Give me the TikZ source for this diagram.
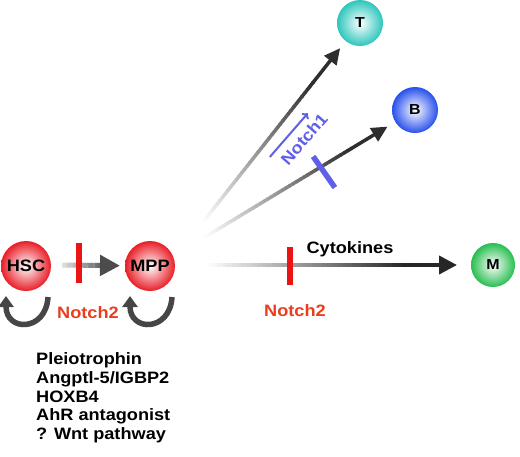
\documentclass[tikz,border=0pt]{standalone}
\usepackage{fontspec}
\setmainfont{Liberation Sans}[FakeStretch=1.1]
\usetikzlibrary{calc,arrows.meta}
\definecolor{hscred}{RGB}{232,30,40}
\definecolor{tcol}{RGB}{45,198,188}
\definecolor{bcol}{RGB}{40,80,235}
\definecolor{mcol}{RGB}{40,190,80}
\definecolor{barred}{RGB}{235,20,20}
\definecolor{notchred}{RGB}{232,62,30}
\definecolor{notchblue}{RGB}{95,95,232}
\definecolor{loopgray}{RGB}{70,70,70}
\newcommand\fadearrow[7]{%
  \foreach \i in {0,...,39}{%
    \pgfmathsetmacro\fa{0.8*\i/40}%
    \pgfmathsetmacro\fb{0.8*(\i+1)/40+0.004}%
    \pgfmathsetmacro\cc{#6+(#7-#6)*\i/39}%
    \draw[line width=#3, draw=black!\cc] ($(#1)!\fa!(#2)$) -- ($(#1)!\fb!(#2)$);
  }%
  \draw[line width=#3, draw=black!#7, -{Triangle[length=#4,width=#5]}] ($(#1)!0.8!(#2)$) -- (#2);
}
\begin{document}
\begin{tikzpicture}[x=1pt,y=-1pt,
  bigcell/.style={circle, inner sep=0pt, minimum size=50pt, shading=radial, inner color=white,
    font=\bfseries\fontsize{16.5}{20}\selectfont},
  smallcell/.style={circle, inner sep=0pt, minimum size=46pt, shading=radial, inner color=white,
    font=\bfseries\fontsize{14.5}{18}\selectfont},
  lbl/.style={inner sep=0pt, font=\bfseries\fontsize{16.5}{20}\selectfont},
  redbar/.style={rectangle, inner sep=0pt, fill=barred, minimum width=5.5pt, minimum height=#1},
  bluebar/.style={rectangle, inner sep=0pt, fill=notchblue, minimum width=5.5pt, minimum height=38pt},
  loopar/.style={draw=loopgray, line width=5.5pt, -{Triangle[length=11pt,width=15pt]}}
]
\useasboundingbox (0,0) rectangle (520,456);

% cells
\node[bigcell, outer color=hscred] (HSC) at (26,266) {HSC};
\node[bigcell, outer color=hscred] (MPP) at (150,266) {MPP};
\node[smallcell, outer color=tcol] (T) at (360,23) {T};
\node[smallcell, outer color=bcol] (B) at (415,110) {B};
\node[smallcell, outer color=mcol, minimum size=44pt] (M) at (493,265) {M};

% start points
\coordinate (hS) at (62,265);
\coordinate (hE) at ($(MPP)!30pt!(hS)$);
\coordinate (tS) at (203,222);
\coordinate (tE) at ($(T)!32pt!(tS)$);
\coordinate (bS) at (205,237);
\coordinate (bE) at ($(B)!32pt!(bS)$);
\coordinate (mS) at (207,265);
\coordinate (mE) at ($(M)!36pt!(mS)$);

% gradient arrows
\fadearrow{hS}{hE}{5pt}{20pt}{20pt}{12}{70}
\fadearrow{tS}{tE}{3.5pt}{16pt}{15pt}{1}{82}
\fadearrow{bS}{bE}{3.5pt}{16pt}{15pt}{1}{82}
\fadearrow{mS}{mE}{4pt}{18pt}{18pt}{1}{85}

% self-renewal loops
\draw[loopar] ($(HSC)+(22,31)$) .. controls ($(HSC)+(20,66)$) and ($(HSC)+(-20,66)$) .. ($(HSC)+(-20,30)$);
\draw[loopar] ($(MPP)+(22,31)$) .. controls ($(MPP)+(20,66)$) and ($(MPP)+(-20,66)$) .. ($(MPP)+(-20,30)$);

% inhibition bars
\node[redbar=40pt] (rb1) at (79,263) {};
\node[redbar=38pt] (rb2) at (290,266) {};
\node[bluebar, rotate=35] (bb) at (324,172) {};

% labels
\node[lbl, text=notchred, anchor=base] (n2a) at (88,318.5) {Notch2};
\node[lbl, text=notchred, anchor=base] (n2b) at (295,316.5) {Notch2};
\node[lbl, anchor=base] (cyt) at (350,253.5) {Cytokines};

% Notch1 label with arrow
\begin{scope}[shift={(304,139)}, rotate=49, y=1pt]
  \node[lbl, text=notchblue, transform shape] (N1) at (0,0) {Notch1};
  \coordinate (n1a) at (-36,14);
  \coordinate (n1b) at (22,14);
  \draw[draw=notchblue, line width=2pt, -{To[length=5pt,width=9pt]}] (n1a) -- (n1b);
\end{scope}

% factor list
\node[inner sep=0pt, anchor=north west, align=left,
      font=\bfseries\fontsize{16.5}{18.7}\selectfont] (list) at (36,352.5)
  {Pleiotrophin\\Angptl-5/IGBP2\\HOXB4\\AhR antagonist\\? Wnt pathway};
\end{tikzpicture}
\end{document}
